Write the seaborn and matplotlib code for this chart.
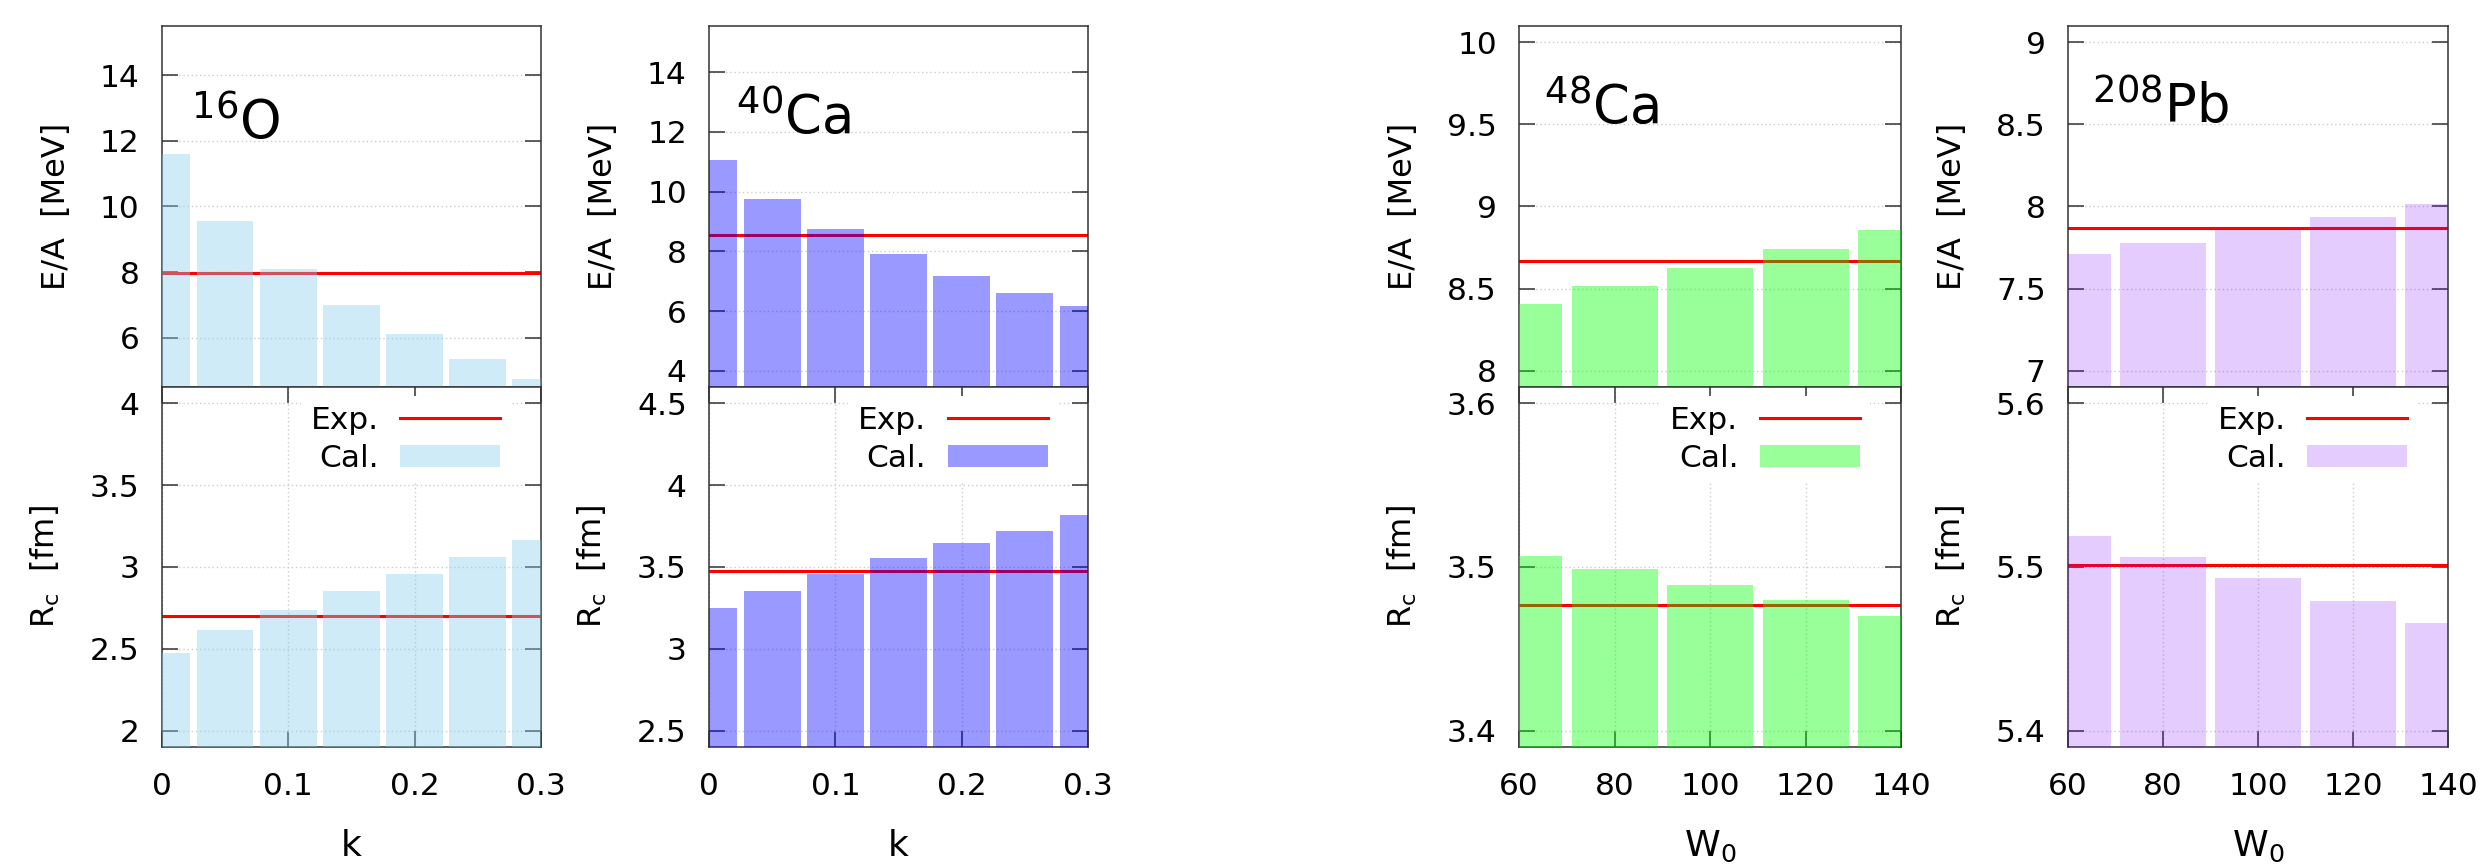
import seaborn as sns
import matplotlib.pyplot as plt
from matplotlib.lines import Line2D
from matplotlib.patches import Patch

plt.rcParams['font.family'] = ['DejaVu Sans']
plt.rcParams['mathtext.fontset'] = 'dejavusans'

# data
k_vals = [0, 0.05, 0.1, 0.15, 0.2, 0.25, 0.3]
w0_vals = [60, 80, 100, 120, 140]

o16_ea = [11.60, 9.56, 8.11, 7.00, 6.10, 5.36, 4.74]
o16_rc = [2.477, 2.614, 2.736, 2.852, 2.959, 3.059, 3.163]
ca40_ea = [11.06, 9.74, 8.74, 7.90, 7.19, 6.60, 6.17]
ca40_rc = [3.248, 3.356, 3.455, 3.553, 3.646, 3.718, 3.817]
ca48_ea = [8.407, 8.514, 8.624, 8.739, 8.858]
ca48_rc = [3.507, 3.4986, 3.4892, 3.480, 3.470]
pb208_ea = [7.711, 7.780, 7.858, 7.936, 8.018]
pb208_rc = [5.519, 5.506, 5.493, 5.479, 5.466]

exp_ea = [7.976, 8.551, 8.667, 7.867]
exp_rc = [2.699, 3.478, 3.477, 5.501]

nuclei = [r'$^{16}$O', r'$^{40}$Ca', r'$^{48}$Ca', r'$^{208}$Pb']
k_ticks = [0, 0.1, 0.2, 0.3]
w0_ticks = [60, 80, 100, 120, 140]

ea_ticks = [[6, 8, 10, 12, 14], [4, 6, 8, 10, 12, 14], [8, 8.5, 9, 9.5, 10], [7, 7.5, 8, 8.5, 9]]
rc_ticks = [[2, 2.5, 3, 3.5, 4], [2.5, 3, 3.5, 4, 4.5], [3.4, 3.5, 3.6], [5.4, 5.5, 5.6]]
ea_lims = [(4.5, 15.5), (3.46, 15.54), (7.9, 10.1), (6.9, 9.1)]
rc_lims = [(1.9, 4.1), (2.4, 4.6), (3.39, 3.61), (5.39, 5.61)]

colors = ['#87ceeb', '#0000ff', '#00ff00', '#8000ff']
alphas = [0.4, 0.4, 0.4, 0.2]

fig = plt.figure(figsize=(24.87, 8.64), dpi=100)
lefts = [0.0651, 0.2851, 0.6108, 0.8315]
widths = [0.1524, 0.1524, 0.1536, 0.1528]

ea_data = [o16_ea, ca40_ea, ca48_ea, pb208_ea]
rc_data = [o16_rc, ca40_rc, ca48_rc, pb208_rc]
text_pos = [(0.076, 0.687), (0.071, 0.704), (0.065, 0.731), (0.063, 0.731)]


def style_axis(ax, yt, lims):
    ax.set_ylim(*lims)
    ax.set_yticks(yt)
    ax.set_yticklabels([f'{v:g}' for v in yt])
    ax.tick_params(direction='in', length=11.5, width=1.1, color='#333333',
                   right=True, pad=16, labelsize=22.5)
    for s in ax.spines.values():
        s.set_linewidth(1.1)
        s.set_color('#333333')


for i in range(4):
    xs = k_vals if i < 2 else w0_vals
    xt = k_ticks if i < 2 else w0_ticks
    xl = (0, 0.3) if i < 2 else (60, 140)

    # upper panel: E/A
    ax = fig.add_axes([lefts[i], 0.5521, widths[i], 0.4178])
    ax.axhline(exp_ea[i], color='red', lw=2.2, zorder=2)
    sns.barplot(x=xs, y=ea_data[i], native_scale=True, width=0.9, color=colors[i],
                saturation=1, alpha=alphas[i], linewidth=0, errorbar=None, zorder=3, ax=ax)
    ax.set_xlim(*xl)
    style_axis(ax, ea_ticks[i], ea_lims[i])
    ax.tick_params(axis='x', bottom=False, top=False, labelbottom=False)
    ax.grid(axis='y', color='#cccccc', lw=1, ls=(0, (1, 2)))
    ax.set_ylabel('E/A  [MeV]', fontsize=23, labelpad=20)
    ax.set_xlabel('')
    ax.text(text_pos[i][0], text_pos[i][1], nuclei[i], transform=ax.transAxes,
            fontsize=38, va='baseline', ha='left')

    # lower panel: R_c
    ax = fig.add_axes([lefts[i], 0.1354, widths[i], 0.4167])
    ax.axhline(exp_rc[i], color='red', lw=2.2, zorder=2)
    sns.barplot(x=xs, y=rc_data[i], native_scale=True, width=0.9, color=colors[i],
                saturation=1, alpha=alphas[i], linewidth=0, errorbar=None, zorder=3, ax=ax)
    ax.set_xlim(*xl)
    ax.set_xticks(xt)
    ax.set_xticklabels([f'{v:g}' for v in xt])
    style_axis(ax, rc_ticks[i], rc_lims[i])
    ax.tick_params(axis='x', top=True, pad=18)
    ax.grid(color='#cccccc', lw=1, ls=(0, (1, 2)))
    ax.set_ylabel(r'R$_\mathrm{c}$  [fm]', fontsize=23, labelpad=20)
    ax.set_xlabel('k' if i < 2 else r'W$_0$', fontsize=26, labelpad=20)

    handles = [Line2D([], [], color='red', lw=2.2),
               Patch(facecolor=colors[i], alpha=alphas[i], edgecolor='none')]
    ax.legend(handles, ['Exp.', 'Cal.'], loc='upper right', bbox_to_anchor=(0.918, 0.974),
              markerfirst=False, frameon=True, facecolor='white', edgecolor='none',
              framealpha=1, fancybox=False, borderpad=0.3, borderaxespad=0,
              handlelength=3.2, handletextpad=0.7, labelspacing=0.3, fontsize=22.5)

plt.savefig('out.png', dpi=100)
